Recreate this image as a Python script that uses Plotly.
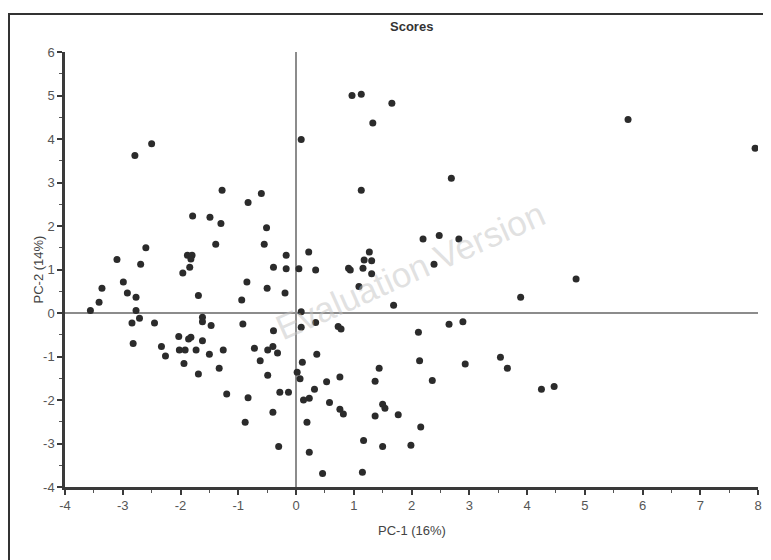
import plotly.graph_objects as go

# PC scores
pc1 = [-2.79, -2.50, -1.28, -0.60, -0.83, 0.09, 0.97, 1.13, 1.33, 1.66, 1.13, 5.75, 7.95, 2.69,
       -3.56, -3.41, -3.36, -3.10, -2.99, -2.92, -2.77, -2.77, -2.84, -2.71, -2.82, -2.69, -2.60,
       -2.45, -2.33, -2.26, -2.03, -2.02, -1.92, -1.94, -1.96, -1.84, -1.88, -1.80, -1.82, -1.79,
       -1.86, -1.82, -1.73, -1.69, -1.69, -1.62, -1.62, -1.62, -1.50, -1.47, -1.49, -1.39, -1.30,
       -1.33, -1.26, -0.94, -0.92, -0.85, -0.72, -0.62, -0.55, -0.51, -0.50, -0.49, -0.49, -0.40,
       -0.39, -0.39, -0.32, -0.19, -0.17, -0.17, 0.05, 0.09, 0.09, 0.11, 0.02, 0.07, 0.22, 0.34,
       0.34, 0.36, 0.73, 0.78, 0.91, 0.94, 1.09, 1.16, 1.18, 1.27, 1.31, 1.31, 1.69, 1.44, 0.76,
       1.37, 2.20, 2.48, 2.82, 2.39, 4.85, 3.89, 2.12, 2.65, 2.89, 2.14, 2.93, 3.54, 3.66, 2.36,
       4.25, 4.47, 1.50, 1.54, 1.77, 2.16, 1.99, 1.50, -1.20, -0.83, -0.88, -0.40, -0.28, -0.13,
       -0.30, 0.13, 0.23, 0.32, 0.19, 0.23, 0.46, 0.53, 0.58, 0.76, 0.82, 1.17, 1.15, 1.37]
pc2 = [3.62, 3.89, 2.82, 2.75, 2.54, 3.99, 5.00, 5.03, 4.37, 4.82, 2.82, 4.45, 3.79, 3.10,
       0.06, 0.25, 0.57, 1.23, 0.71, 0.46, 0.36, 0.06, -0.23, -0.12, -0.70, 1.12, 1.50,
       -0.23, -0.77, -0.99, -0.54, -0.85, -0.85, -1.16, 0.92, 1.05, 1.33, 1.33, 1.24, 2.23,
       -0.60, -0.56, -0.85, 0.40, -1.40, -0.10, -0.20, -0.64, -0.95, -0.29, 2.20, 1.58, 2.06,
       -1.27, -0.85, 0.30, -0.25, 0.71, -0.81, -1.10, 1.58, 1.96, 0.57, -0.85, -1.43, -0.77,
       1.05, -0.41, -0.92, 0.46, 1.33, 1.02, 1.02, 0.03, -0.33, -1.13, -1.36, -1.51, 1.40, 0.99,
       -0.22, -0.95, -0.31, -0.37, 1.03, 0.99, 0.61, 1.03, 1.22, 1.40, 1.20, 0.90, 0.18, -1.27, -1.47,
       -1.57, 1.70, 1.78, 1.70, 1.12, 0.78, 0.36, -0.44, -0.26, -0.20, -1.10, -1.17, -1.02, -1.27, -1.55,
       -1.75, -1.69, -2.10, -2.19, -2.34, -2.62, -3.04, -3.07, -1.86, -1.95, -2.51, -2.28, -1.82, -1.82,
       -3.07, -2.00, -1.96, -1.75, -2.51, -3.20, -3.69, -1.58, -2.06, -2.21, -2.32, -2.93, -3.66, -2.37]

x_ticks = [-4, -3, -2, -1, 0, 1, 2, 3, 4, 5, 6, 7, 8]
x_tick_labels = ["-4", "-3", "-2", "-1", "0", "1", "2", "3", "4", "5", "6", "7", "8"]
y_ticks = [-4, -3, -2, -1, 0, 1, 2, 3, 4, 5, 6]
y_tick_labels = ["-4", "-3", "-2", "-1", "0", "1", "2", "3", "4", "5", "6"]

FONT = "Liberation Sans, Arial, sans-serif"

# page has an 8px body margin; work in figure coordinates
OFF = 8
FW, FH = 771 - OFF, 560 - OFF
# plot area in page pixels: x 65..758, y 52..487
L, R, T, B = 65 - OFF, 758 - OFF, 52 - OFF, 487 - OFF
W, H = R - L, B - T


def py(page_y):
    return (B - (page_y - OFF)) / H


def px(page_x):
    return ((page_x - OFF) - L) / W


fig = go.Figure()
fig.add_trace(go.Scatter(
    x=pc1, y=pc2, mode="markers",
    marker=dict(size=7, color="#2b2b2b"),
    showlegend=False, hoverinfo="x+y",
))

axis_common = dict(
    automargin=False,
    showgrid=False,
    zeroline=True, zerolinecolor="#8c8c8c", zerolinewidth=1.5,
    showline=True, linecolor="#3a3a3a", linewidth=2.5,
    ticks="outside", ticklen=5, tickwidth=1.5, tickcolor="#3a3a3a",
    minor=dict(dtick=0.5, ticks="outside", ticklen=3, tickwidth=1.2, tickcolor="#555555"),
    tickfont=dict(family=FONT, size=13, color="#555555"),
)

fig.update_layout(
    width=FW, height=FH,
    margin=dict(l=L, r=FW - R, t=T, b=FH - B, autoexpand=False),
    paper_bgcolor="white", plot_bgcolor="white",
    xaxis=dict(range=[-4, 8], tickvals=x_ticks, ticktext=x_tick_labels, **axis_common),
    yaxis=dict(range=[-4, 6], tickvals=y_ticks, ticktext=y_tick_labels, **axis_common),
)

# title and axis titles
fig.add_annotation(text="<b>Scores</b>", xref="paper", yref="paper",
                   x=0.5, y=py(27), showarrow=False, yanchor="middle",
                   font=dict(family=FONT, size=13, color="#333333"))
fig.add_annotation(text="PC-1 (16%)", xref="paper", yref="paper",
                   x=0.5, y=py(530), showarrow=False, yanchor="middle",
                   font=dict(family=FONT, size=13, color="#444444"))
fig.add_annotation(text="PC-2 (14%)", xref="paper", yref="paper",
                   x=px(38), y=0.5, showarrow=False, textangle=-90,
                   xanchor="center", yanchor="middle",
                   font=dict(family=FONT, size=13, color="#444444"))

# outer frame
fig.add_shape(type="rect", xref="paper", yref="paper",
              x0=px(9), x1=px(800), y0=py(620), y1=py(14),
              line=dict(color="#333333", width=2), fillcolor="rgba(0,0,0,0)", layer="below")

# watermark
fig.add_annotation(text="Evaluation Version", xref="paper", yref="paper",
                   x=px(410), y=py(270), showarrow=False, textangle=-24,
                   font=dict(family=FONT, size=35, color="rgba(195,195,195,0.5)"))

fig.write_html("out.html")
